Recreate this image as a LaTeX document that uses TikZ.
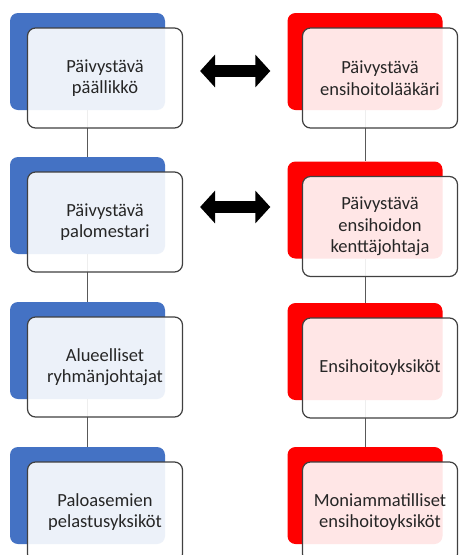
\documentclass[tikz,border=0pt]{standalone}
\usepackage{fontspec}
\setmainfont{Carlito}
\usetikzlibrary{arrows.meta,positioning}
\definecolor{accblue}{HTML}{4472C4}
\definecolor{accred}{HTML}{FF0000}
\definecolor{framegray}{HTML}{404040}

\begin{document}
\begin{tikzpicture}[
  x=1pt, y=-1pt,
  back/.style   = {rectangle, rounded corners=8pt, inner sep=0pt,
                   minimum width=155pt, minimum height=97pt},
  bluebk/.style = {back, fill=accblue},
  redbk/.style  = {back, fill=accred},
  front/.style  = {draw=framegray, line width=1.2pt, rounded corners=8pt,
                   fill=white, fill opacity=0.9, text opacity=1,
                   minimum width=155pt, minimum height=100pt, align=center,
                   text=black!85, font=\fontsize{18.5}{21.5}\selectfont},
  link/.style   = {draw=black!65, line width=0.9pt},
  pairarrow/.style = {draw=black, line width=12pt,
                   {Triangle[width=32pt,length=15pt]}-{Triangle[width=32pt,length=15pt]},
                   shorten <=17pt, shorten >=17pt},
]
\clip (0,0) rectangle (459,555);
\fill[white] (0,0) rectangle (459,555);

% ========== Back plates ==========
\node[bluebk] (lb1) at (87.5, 61.5)  {};
\node[bluebk] (lb2) at (87.5, 205.5) {};
\node[bluebk] (lb3) at (87.5, 350.5) {};
\node[bluebk] (lb4) at (87.5, 495.5) {};

\node[redbk]  (rb1) at (365, 61.5)  {};
\node[redbk]  (rb2) at (365, 210)   {};
\node[redbk]  (rb3) at (365, 351.5) {};
\node[redbk]  (rb4) at (365, 495.5) {};

% ========== Vertical links ==========
\draw[link] (lb1.south) -- (lb2.north);
\draw[link] (lb2.south) -- (lb3.north);
\draw[link] (lb3.south) -- (lb4.north);
\draw[link] (rb1.south) -- (rb2.north);
\draw[link] (rb2.south) -- (rb3.north);
\draw[link] (rb3.south) -- (rb4.north);

% ========== Front boxes (left) ==========
\node[front] (lf1) at ([shift={(17.5,16.5)}]lb1.center) {Päivystävä\\päällikkö};
\node[front] (lf2) at ([shift={(17.5,16.5)}]lb2.center) {Päivystävä\\palomestari};
\node[front] (lf3) at ([shift={(17.5,16.5)}]lb3.center) {Alueelliset\\ryhmänjohtajat};
\node[front] (lf4) at ([shift={(17.5,16.5)}]lb4.center) {Paloasemien\\pelastusyksiköt};

% ========== Front boxes (right) ==========
\node[front] (rf1) at ([shift={(15,16.5)}]rb1.center) {Päivystävä\\ensihoitolääkäri};
\node[front] (rf2) at ([shift={(15,16.5)}]rb2.center) {Päivystävä\\ensihoidon\\kenttäjohtaja};
\node[front] (rf3) at ([shift={(15,16.5)}]rb3.center) {Ensihoitoyksiköt};
\node[front] (rf4) at ([shift={(15,16.5)}]rb4.center) {Moniammatilliset\\ensihoitoyksiköt};

% ========== Cross links ==========
\draw[pairarrow] ([yshift=7pt]lf1.east) -- ([yshift=7pt]lf1.east -| rb1.west);
\draw[pairarrow] ([yshift=15pt]lf2.east) -- ([yshift=15pt]lf2.east -| rb2.west);

\end{tikzpicture}
\end{document}
